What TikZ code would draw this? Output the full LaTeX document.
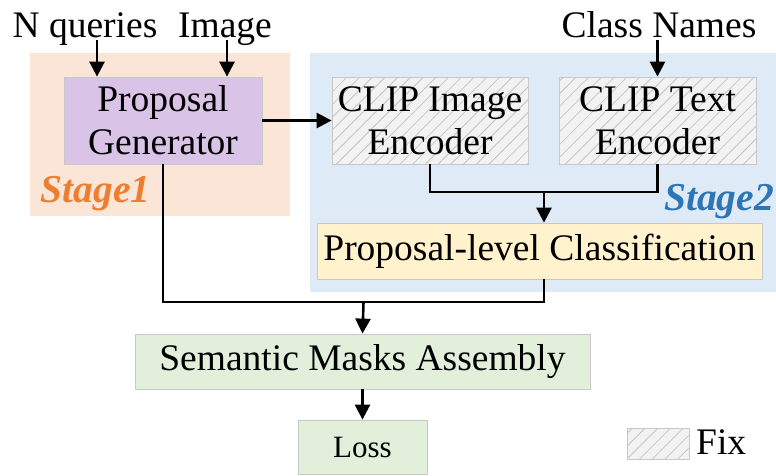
\documentclass[tikz,border=0pt]{standalone}
\usepackage{fontspec}
\setmainfont{Liberation Serif}
\usetikzlibrary{arrows.meta,patterns.meta,calc}
\definecolor{stoneBg}{HTML}{FBE5D6}
\definecolor{sttwoBg}{HTML}{DEEBF7}
\definecolor{purp}{HTML}{D9C3E6}
\definecolor{yell}{HTML}{FFF2CC}
\definecolor{gren}{HTML}{E2EFDA}
\definecolor{hatchbg}{HTML}{F2F2F2}
\definecolor{hatchln}{HTML}{C4C4C4}
\definecolor{bordr}{HTML}{C8C8C8}
\definecolor{orng}{HTML}{ED7D31}
\definecolor{blu}{HTML}{2E75B6}
\tikzset{
  txt/.style={font=\fontsize{37.5}{43}\selectfont, inner sep=0pt, align=center},
  box/.style={txt, draw=bordr, line width=0.8pt, inner sep=0pt},
  hatchbox/.style={box, preaction={fill=hatchbg},
     pattern={Lines[angle=45,distance=9pt,line width=0.8pt]}, pattern color=hatchln},
  arr/.style={line width=2.6pt, -{Triangle[length=15pt,width=15pt]}},
  lin/.style={line width=2.6pt},
  stagelbl/.style={font=\fontsize{39.5}{44}\selectfont\bfseries\itshape, inner sep=0pt, anchor=base}
}
\begin{document}
\begin{tikzpicture}[x=1pt,y=-1pt]
\useasboundingbox (0,0) rectangle (776,475);
% stage backgrounds
\fill[stoneBg] (30,53) rectangle (290,216);
\fill[sttwoBg] (310,53) rectangle (776,292);
% texts
\node[txt, anchor=base] (nq) at (85,37.5) {N queries};
\node[txt, anchor=base] (im) at (225,37.5) {Image};
\node[txt, anchor=base] (cn) at (659,37.5) {Class Names};
% boxes
\node[box, fill=purp, minimum width=198pt, minimum height=87pt] (pg) at (163,120.5) {Proposal\\Generator};
\node[hatchbox, minimum width=196pt, minimum height=87pt] (cie) at (430,120.5) {CLIP Image\\Encoder};
\node[hatchbox, minimum width=197pt, minimum height=87pt] (cte) at (657.5,120.5) {CLIP Text\\Encoder};
\node[box, fill=yell, minimum width=445pt, minimum height=56pt] (plc) at (539.5,251) {Proposal-level Classification};
\node[box, fill=gren, minimum width=455pt, minimum height=55pt] (sem) at (362.5,361.5) {Semantic Masks Assembly};
\node[box, fill=gren, minimum width=129pt, minimum height=54pt, font=\fontsize{31}{36}\selectfont] (loss) at (362.5,447) {Loss};
% stage labels
\node[stagelbl, text=orng] (s1) at (95.5,202) {Stage1};
\node[stagelbl, text=blu] (s2) at (719,210) {Stage2};
% legend
\node[hatchbox, minimum width=62pt, minimum height=31pt] (leg) at (658,443.5) {};
\node[txt, anchor=west] (fix) at (696,442) {Fix};
% connectors
\coordinate (a1) at (97,40);
\coordinate (a2) at (227,40);
\coordinate (a3) at (657.5,40);
\draw[arr] (a1) -- (a1 |- pg.north);
\draw[arr] (a2) -- (a2 |- pg.north);
\draw[arr] (a3) -- (cte.north);
\draw[arr] (pg.east) -- (cie.west);
\coordinate (j1) at (544,192);
\draw[lin] (cie.south) |- (j1) -| (cte.south);
\draw[arr] (j1) -- (j1 |- plc.north);
\coordinate (j2) at (363.5,302);
\draw[lin] (pg.south) |- (j2) -| (j1 |- plc.south);
\draw[arr] (j2) -- (sem.north);
\draw[arr] (sem.south) -- (loss.north);
\end{tikzpicture}
\end{document}
